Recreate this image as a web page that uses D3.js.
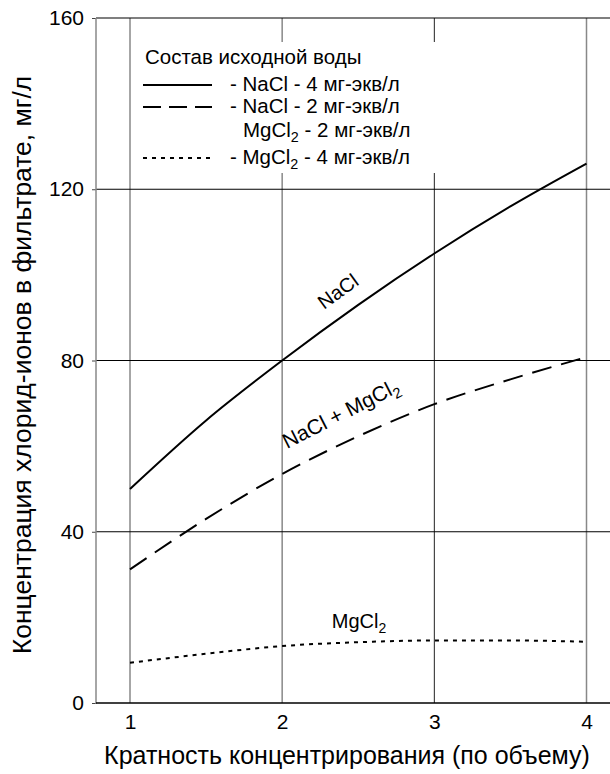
<!DOCTYPE html>
<html>
<head>
<meta charset="utf-8">
<script src="https://cdn.jsdelivr.net/npm/d3@7"></script>
<style>
  html, body { margin: 0; padding: 0; background: #fff; }
  svg { display: block; font-family: "Liberation Sans", Arial, sans-serif; }
</style>
</head>
<body>
<svg id="chart" width="610" height="774"></svg>
<script>
// Data
const ratios = [1, 1.5, 2, 2.5, 3, 3.5, 4];
const naclValues = [50, 66, 80, 93, 105, 116, 126];
const mixValues = [31.2, 43, 53.5, 62.3, 69.8, 75.6, 80.8];
const mgclValues = [9.4, 11.5, 13.3, 14.2, 14.6, 14.6, 14.3];
const xTicks = [1, 2, 3, 4];
const yTicks = [0, 40, 80, 120, 160];

const svg = d3.select('#chart');
const frame = { left: 96, right: 610, top: 18, bottom: 703 };

const x = d3.scaleLinear().domain([1, 4]).range([130, 586.5]);
const y = d3.scaleLinear().domain([0, 160]).range([frame.bottom, frame.top]);

// Gridlines
svg.append('g').selectAll('line')
  .data(xTicks)
  .join('line')
  .attr('x1', d => x(d)).attr('x2', d => x(d))
  .attr('y1', frame.top).attr('y2', frame.bottom)
  .attr('stroke', d => d === 3 ? '#222' : '#888')
  .attr('stroke-width', d => d === 3 ? 1 : 1.5);

svg.append('g').selectAll('line')
  .data(yTicks.filter(v => v > 0))
  .join('line')
  .attr('x1', frame.left).attr('x2', frame.right)
  .attr('y1', d => y(d)).attr('y2', d => y(d))
  .attr('stroke', '#000')
  .attr('stroke-width', 1.2);

// Left axis with small ticks
const yAxis = svg.append('g')
  .attr('transform', `translate(${frame.left},0)`)
  .call(d3.axisLeft(y).tickValues(yTicks).tickSize(4).tickPadding(8))
  .call(g => g.select('.domain').remove());
yAxis.selectAll('line').attr('stroke', '#444');
yAxis.selectAll('text')
  .attr('font-size', '21px')
  .attr('font-family', '"Liberation Sans", Arial, sans-serif')
  .attr('fill', '#000');

svg.append('line')
  .attr('x1', frame.left).attr('x2', frame.left)
  .attr('y1', frame.top).attr('y2', frame.bottom + 1)
  .attr('stroke', '#888').attr('stroke-width', 1.5);

// Bottom axis
const xAxis = svg.append('g')
  .attr('transform', `translate(0,${frame.bottom})`)
  .call(d3.axisBottom(x).tickValues(xTicks).tickSize(0).tickPadding(11).tickFormat(d3.format('d')))
  .call(g => g.select('.domain').remove());
xAxis.selectAll('text')
  .attr('font-size', '21px')
  .attr('font-family', '"Liberation Sans", Arial, sans-serif')
  .attr('fill', '#000');

svg.append('line')
  .attr('x1', frame.left).attr('x2', frame.right)
  .attr('y1', frame.bottom).attr('y2', frame.bottom)
  .attr('stroke', '#000').attr('stroke-width', 1.5);

// Legend box (white, hides the grid)
const lg = svg.append('g');
lg.append('rect')
  .attr('x', 137).attr('y', 42)
  .attr('width', 310).attr('height', 131)
  .attr('fill', '#fff');

const line = d3.line()
  .x((d, i) => x(ratios[i]))
  .y(d => y(d))
  .curve(d3.curveMonotoneX);

const series = [
  { values: naclValues, dash: null },
  { values: mixValues, dash: '20,10' },
  { values: mgclValues, dash: '4,5' }
];

svg.append('g').selectAll('path')
  .data(series)
  .join('path')
  .attr('d', d => line(d.values))
  .attr('fill', 'none')
  .attr('stroke', '#000')
  .attr('stroke-width', 2)
  .attr('stroke-dasharray', d => d.dash);

// Legend content
lg.append('text')
  .attr('x', 145).attr('y', 64)
  .attr('font-size', '20.5px')
  .text('Состав исходной воды');

const legendRows = [
  { y: 85, dash: null, text: '- NaCl - 4 мг-экв/л' },
  { y: 107, dash: '18,8', text: '- NaCl - 2 мг-экв/л' },
  { y: 158, dash: '4,5', text: null }
];
legendRows.forEach(r => {
  lg.append('line')
    .attr('x1', 143).attr('x2', 212)
    .attr('y1', r.y).attr('y2', r.y)
    .attr('stroke', '#000').attr('stroke-width', 2)
    .attr('stroke-dasharray', r.dash);
  if (r.text) {
    lg.append('text')
      .attr('x', 230).attr('y', r.y + 6)
      .attr('font-size', '20.5px')
      .text(r.text);
  }
});

function mgcl(sel, before, after, size) {
  sel.append('tspan').text(before + 'MgCl');
  sel.append('tspan').attr('dy', 5).attr('font-size', (size * 0.7) + 'px').text('2');
  if (after) sel.append('tspan').attr('dy', -5).text(after);
}

lg.append('text').attr('x', 243).attr('y', 137).attr('font-size', '20.5px')
  .call(mgcl, '', ' - 2 мг-экв/л', 20.5);
lg.append('text').attr('x', 230).attr('y', 164).attr('font-size', '20.5px')
  .call(mgcl, '- ', ' - 4 мг-экв/л', 20.5);

// Curve labels
svg.append('text')
  .attr('transform', 'translate(342,297) rotate(-36)')
  .attr('text-anchor', 'middle')
  .attr('font-size', '20px')
  .text('NaCl');

svg.append('text')
  .attr('transform', 'translate(344,420) rotate(-27)')
  .attr('text-anchor', 'middle')
  .attr('font-size', '21px')
  .call(mgcl, 'NaCl + ', '', 21);

svg.append('text')
  .attr('x', 359).attr('y', 628)
  .attr('text-anchor', 'middle')
  .attr('font-size', '20px')
  .call(mgcl, '', '', 20);

// Axis titles
svg.append('text')
  .attr('x', 347).attr('y', 764)
  .attr('text-anchor', 'middle')
  .attr('font-size', '25px')
  .text('Кратность концентрирования (по объему)');

svg.append('text')
  .attr('transform', 'translate(31,365) rotate(-90)')
  .attr('text-anchor', 'middle')
  .attr('font-size', '26.5px')
  .text('Концентрация хлорид-ионов в фильтрате, мг/л');
</script>
</body>
</html>
